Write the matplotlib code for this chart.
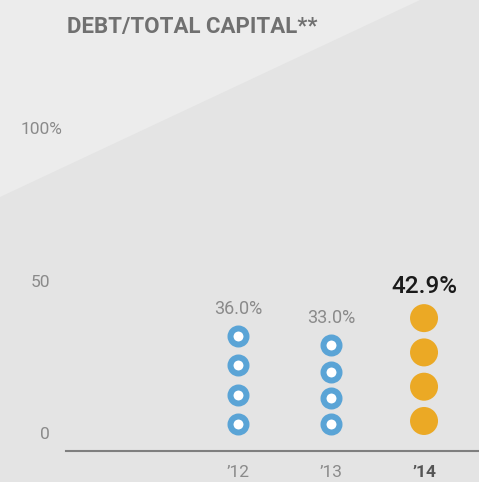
import numpy as np
import matplotlib
matplotlib.use('Agg')
from matplotlib import pyplot as plt
from matplotlib import transforms
from matplotlib.patches import Polygon

# ----- DATA ----- #
years = ['’12', '’13', '’14']
values = [36.0, 33.0, 42.9]
value_labels = ['36.0%', '33.0%', '42.9%']
y_ticks = [0, 50, 100]
y_tick_labels = ['0', '50', '100%']
title = 'DEBT/TOTAL CAPITAL**'

plt.rcParams['font.family'] = ['Roboto', 'DejaVu Sans']

W, H = 479, 482
fig = plt.figure(figsize=(W / 100, H / 100), dpi=100, facecolor='#e4e4e4')

# lighter triangle in the upper left
tri = Polygon([(0, 1), (0, 1 - 197 / H), (420 / W, 1)], closed=True,
              transform=fig.transFigure, facecolor='#ececec', edgecolor='none',
              zorder=-5)
fig.patches.append(tri)

ax = fig.add_axes([66 / W, (H - 451) / H, 1 - 66 / W, 451 / H])
ax.set_facecolor('none')
ax.set_ylim(-5.25, 142.6)
ax.set_xlim(-1.849, 2.591)

px_per_unit = 3.05

for i, v in enumerate(values):
    last = i == len(values) - 1
    r_px = 14 if last else 11
    r = r_px / px_per_unit
    ys = np.linspace(r, v - r, 4)
    if last:
        ax.scatter([i] * 4, ys, s=(28 * 0.72) ** 2, color='#eba925',
                   edgecolor='none', zorder=3)
        ax.annotate(value_labels[i], (i, v), xytext=(0, 8),
                    textcoords='offset points', ha='center', va='baseline',
                    fontsize=17.5, fontweight='medium', color='#1a1a1a')
    else:
        ax.scatter([i] * 4, ys, s=(16 * 0.72) ** 2, facecolor='white',
                   edgecolor='#5aa4d6', linewidth=6 * 0.72, zorder=3)
        ax.annotate(value_labels[i], (i, v), xytext=(0, 8),
                    textcoords='offset points', ha='center', va='baseline',
                    fontsize=13, color='#8a8a8a')

# axes
for s in ['top', 'right', 'left']:
    ax.spines[s].set_visible(False)
ax.spines['bottom'].set_color('#7f7f7f')
ax.spines['bottom'].set_linewidth(1.5)
ax.set_yticks([])
ax.set_xticks(range(len(years)), years)
ax.tick_params(axis='x', length=0, pad=10, labelsize=12.5, labelcolor='#8a8a8a')
last_lbl = ax.get_xticklabels()[-1]
last_lbl.set_color('#555555')
last_lbl.set_fontweight('bold')

# y labels
tr = transforms.blended_transform_factory(fig.transFigure, ax.transData)
for t, lbl in zip(y_ticks, y_tick_labels):
    if lbl.endswith('%'):
        ax.text(21 / W, t, lbl, transform=tr, ha='left', va='center',
                fontsize=12.5, color='#8a8a8a')
    else:
        ax.text(50 / W, t, lbl, transform=tr, ha='right', va='center',
                fontsize=12.5, color='#8a8a8a')

fig.text(67 / W, 1 - 27 / H, title, ha='left', va='center', fontsize=16,
         fontweight='bold', color='#707070')

plt.savefig('out.png', dpi=100, facecolor=fig.get_facecolor())
